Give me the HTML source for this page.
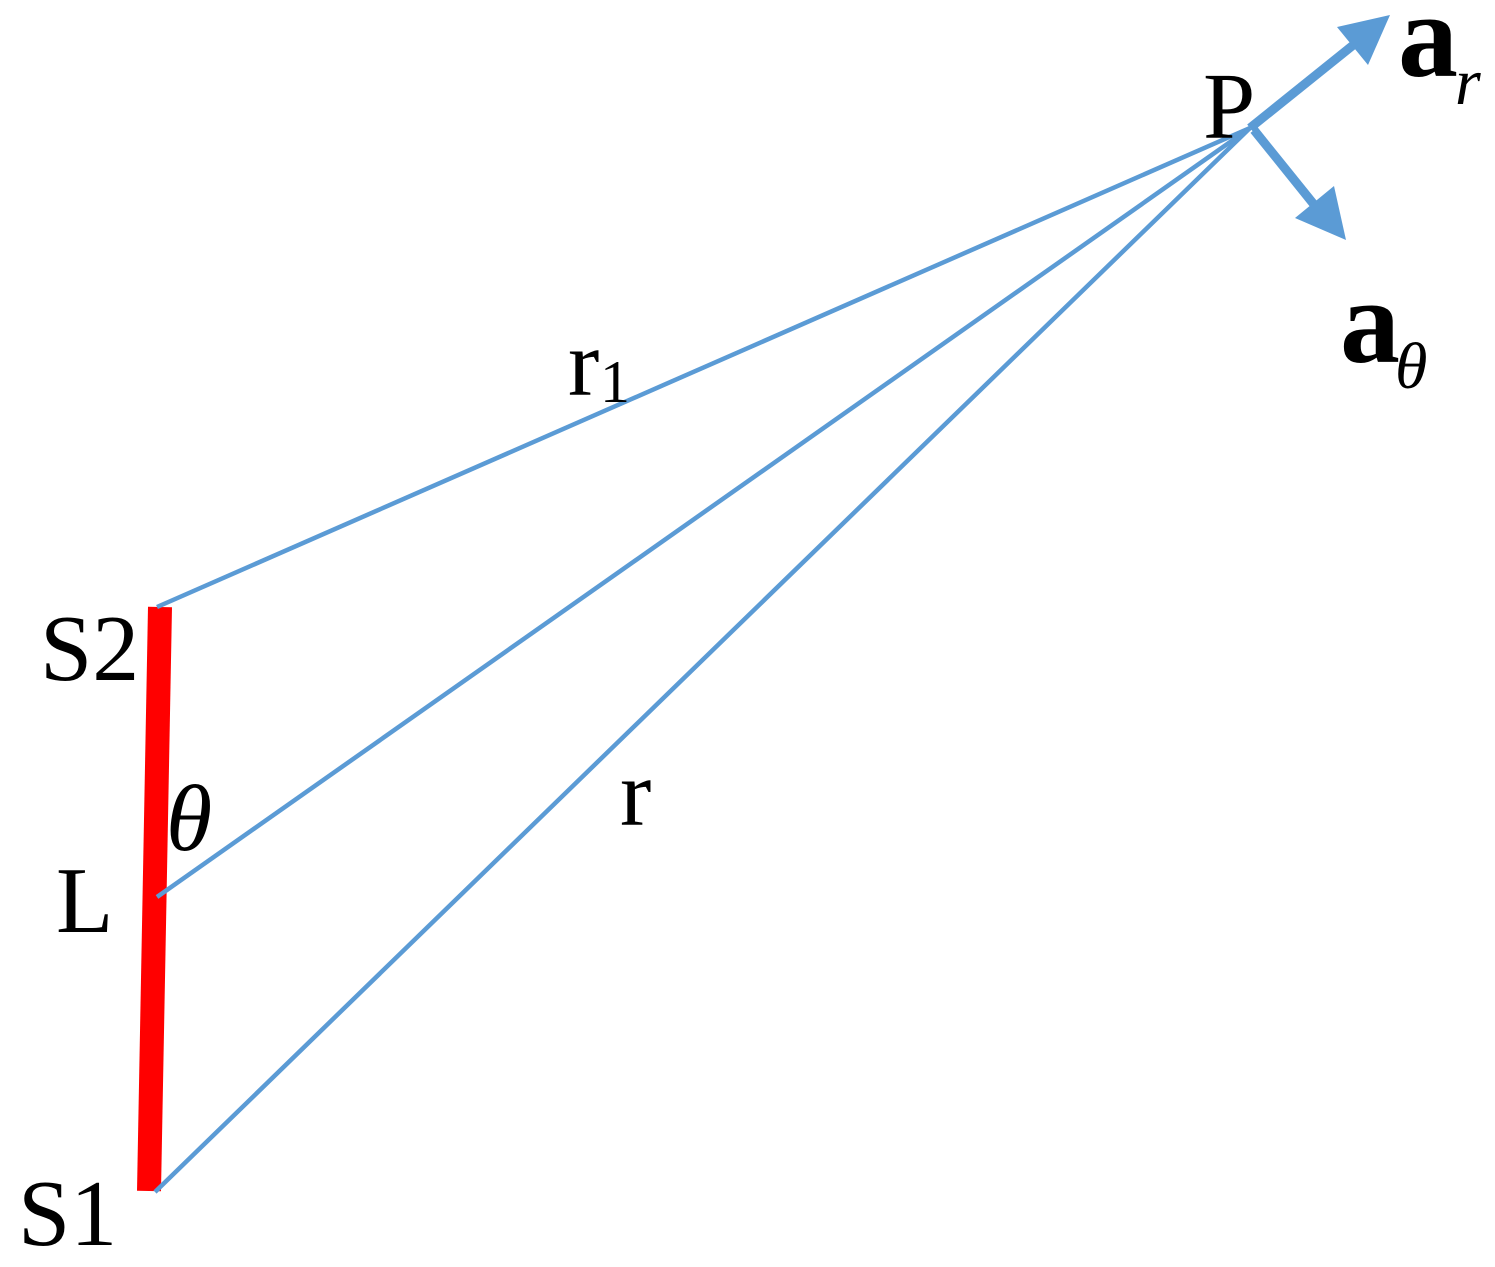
<!DOCTYPE html>
<html><head><style>body{margin:0;background:#fff}</style></head><body>
<svg width="1495" height="1262" viewBox="0 0 1495 1262" xmlns="http://www.w3.org/2000/svg" font-family="Liberation Serif, serif">
<line x1="160" y1="607" x2="149" y2="1191" stroke="#ff0000" stroke-width="24"/>
<g stroke="#5b9bd5" stroke-width="4.5" fill="none">
<line x1="157" y1="607" x2="1250" y2="128"/>
<line x1="157" y1="897" x2="1250" y2="128"/>
<line x1="155" y1="1192" x2="1250" y2="128"/>
</g>
<line x1="1250" y1="128" x2="1362" y2="38" stroke="#5b9bd5" stroke-width="9"/>
<polygon points="1390,15 1368,65 1337,27" fill="#5b9bd5"/>
<line x1="1254" y1="130" x2="1320" y2="212" stroke="#5b9bd5" stroke-width="9"/>
<polygon points="1346,240 1295,218 1334,186" fill="#5b9bd5"/>
<g fill="#000" font-size="94">
<text x="1203" y="138">P</text>
<text x="1398" y="76" font-weight="bold" font-size="120">a</text>
<text x="1455" y="104" font-style="italic" font-size="66">r</text>
<text x="1340" y="362" font-weight="bold" font-size="120">a</text>
<text x="1395" y="388" font-style="italic" font-size="66">θ</text>
<text x="568" y="395">r</text>
<text x="600" y="402" font-size="60">1</text>
<text x="620" y="825">r</text>
<text x="166" y="850" font-style="italic">θ</text>
<text x="56" y="932">L</text>
<text x="40" y="680">S2</text>
<text x="18" y="1245">S1</text>
</g>
</svg>
</body></html>
